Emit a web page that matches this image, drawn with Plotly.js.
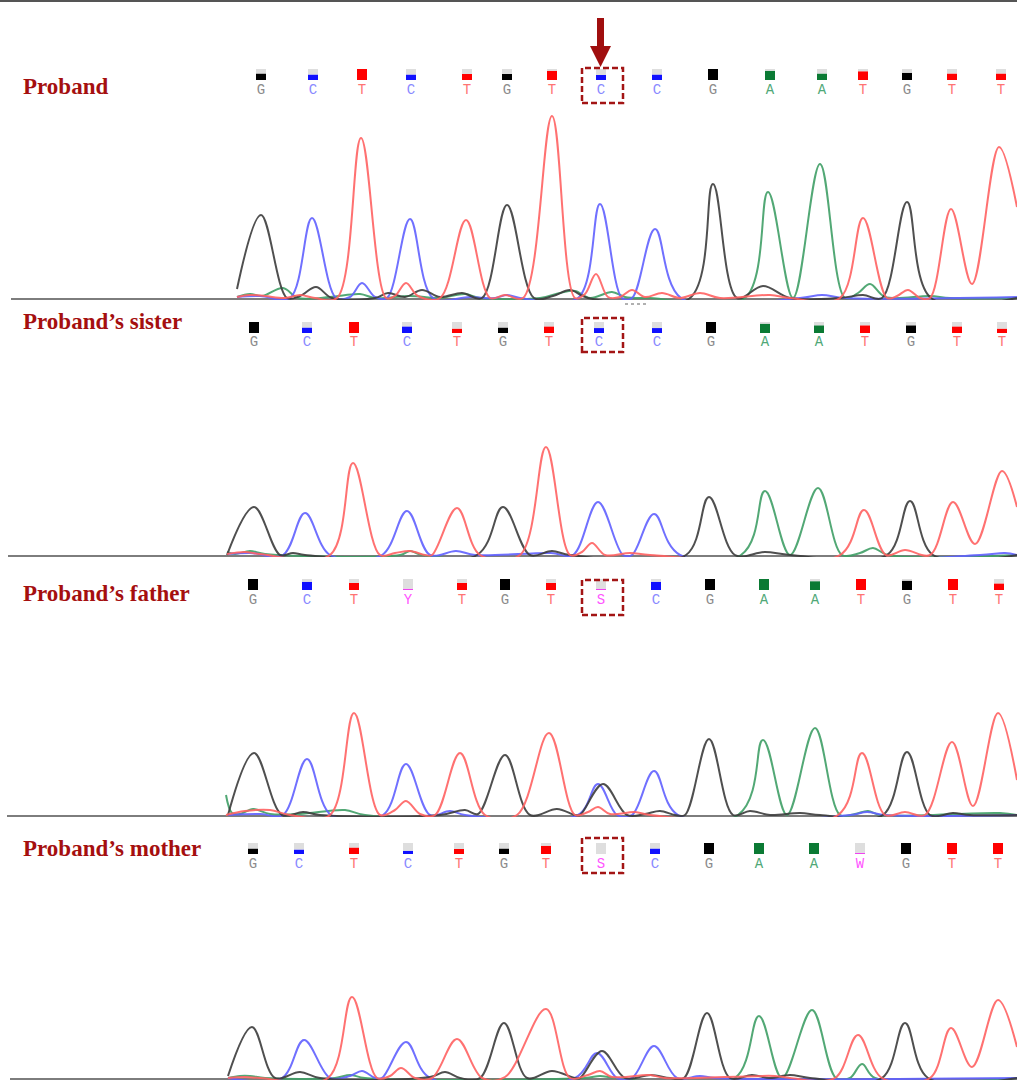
<!DOCTYPE html>
<html><head><meta charset="utf-8">
<script src="https://cdn.plot.ly/plotly-3.0.1.min.js"></script>
<style>html,body{margin:0;padding:0;background:#fff;overflow:hidden}#chart{width:1017px;height:1082px}</style>
</head><body><div id="chart"></div>
<script>
// ---------------- DATA ----------------
const panelLabels = ['Proband', 'Proband\u2019s sister', 'Proband\u2019s father', 'Proband\u2019s mother'];

// base calls, call positions (scan units) and call quality (fraction)
const proband_bases = ['G','C','T','C','T','G','T','C','C','G','A','A','T','G','T','T'];
const proband_pos   = [261,313,362,411,467,507,552,601,657,713,770,822,863,907,952,1001];
const proband_qual  = [0.6,0.5,1.0,0.5,0.55,0.55,0.85,0.45,0.5,1.0,0.85,0.6,0.8,0.65,0.6,0.6];

const sister_bases = ['G','C','T','C','T','G','T','C','C','G','A','A','T','G','T','T'];
const sister_pos   = [254,307,354,407,457,503,549,599,657,711,765,819,865,911,957,1002];
const sister_qual  = [1.0,0.5,1.0,0.6,0.4,0.5,0.6,0.45,0.45,1.0,0.85,0.7,0.7,0.7,0.6,0.4];

const father_bases = ['G','C','T','Y','T','G','T','S','C','G','A','A','T','G','T','T'];
const father_pos   = [253,307,354,408,462,505,551,601,656,710,764,815,861,907,953,999];
const father_qual  = [1.0,0.75,0.65,0.12,0.65,1.0,0.65,0.12,0.75,1.0,1.0,0.8,1.0,0.85,1.0,0.6];

const mother_bases = ['G','C','T','C','T','G','T','S','C','G','A','A','W','G','T','T'];
const mother_pos   = [253,299,354,408,459,504,546,601,655,709,759,814,860,906,952,998];
const mother_qual  = [0.5,0.4,0.6,0.3,0.45,0.5,0.75,0.0,0.5,1.0,1.0,1.0,0.12,1.0,1.0,1.0];

// trace points [scan position, signal] per dye channel
const proband_G = [[237,10],[261,84],[287,1],[300,3],[316,12],[332,1],[375,1],[388,6],[405,2],[422,9],[440,2],[462,6],[482,1],[507,94],[534,1],[553,3],[570,9],[588,1],[690,1],[713,115],[737,1],[763,13],[790,1],[840,1],[863,4],[882,1],[907,97],[931,1],[1017,1]];
const proband_C = [[237,2],[260,3],[290,1],[312,81],[336,1],[350,2],[362,16],[375,2],[387,1],[410,80],[433,1],[470,2],[495,1],[507,4],[520,1],[578,1],[600,95],[622,1],[632,1],[655,70],[681,1],[800,1],[822,4],[845,1],[1017,2]];
const proband_T = [[237,2],[250,4],[265,3],[285,1],[300,4],[315,1],[337,1],[361,161],[386,1],[395,3],[406,16],[418,3],[440,1],[466,79],[490,1],[505,4],[523,1],[552,183],[575,1],[585,5],[596,25],[608,2],[620,2],[632,9],[645,2],[662,6],[680,1],[700,6],[720,1],[770,4],[790,1],[840,1],[863,81],[887,1],[897,3],[908,9],[920,1],[930,1],[951,90],[972,15],[999,152],[1017,92]];
const proband_A = [[237,2],[250,5],[262,3],[283,11],[298,1],[330,2],[360,5],[375,1],[410,3],[440,1],[465,5],[480,1],[540,1],[560,6],[575,8],[590,1],[612,7],[625,2],[650,1],[745,1],[768,107],[793,1],[820,135],[845,1],[858,6],[870,15],[885,2],[930,3],[950,1],[1017,1]];

const sister_G = [[227,1],[254,49],[280,1],[293,3],[305,1],[477,1],[503,49],[530,1],[552,5],[570,1],[686,1],[709,59],[735,1],[765,4],[790,1],[887,1],[910,55],[933,1],[1017,1]];
const sister_C = [[227,2],[250,3],[283,1],[305,43],[330,1],[382,1],[407,45],[430,1],[456,5],[475,1],[551,3],[573,1],[598,54],[623,1],[632,1],[654,42],[680,1],[980,1],[1005,3],[1017,1]];
const sister_T = [[227,2],[245,4],[260,2],[330,1],[353,93],[380,1],[395,3],[410,5],[425,1],[432,1],[457,48],[480,1],[520,1],[546,109],[570,1],[582,4],[592,13],[605,1],[630,3],[650,1],[840,1],[864,46],[886,1],[905,6],[930,1],[953,54],[975,12],[1002,85],[1017,49]];
const sister_A = [[227,4],[235,2],[250,5],[265,2],[400,1],[410,5],[422,1],[741,1],[765,65],[790,1],[818,68],[842,1],[860,3],[873,8],[888,1],[1017,1]];

const father_G = [[228,1],[254,63],[282,1],[303,4],[320,1],[440,1],[465,6],[478,2],[505,61],[530,1],[557,7],[575,1],[580,1],[603,32],[627,1],[645,2],[660,5],[675,1],[685,1],[709,77],[733,1],[750,5],[770,1],[800,3],[820,1],[883,1],[907,64],[930,1],[953,3],[970,1],[1017,1]];
const father_C = [[228,1],[260,2],[283,1],[307,57],[331,1],[383,1],[406,52],[430,1],[450,5],[465,1],[578,1],[598,32],[617,1],[632,1],[654,45],[678,1],[850,1],[867,4],[885,1],[1017,1]];
const father_T = [[226,1],[245,5],[270,6],[290,1],[330,1],[354,103],[380,1],[395,6],[406,15],[420,2],[435,1],[460,63],[485,1],[517,1],[549,83],[575,1],[588,4],[598,9],[610,2],[635,4],[650,1],[838,1],[862,63],[885,1],[905,4],[925,1],[952,74],[973,10],[998,103],[1017,36]];
const father_A = [[226,21],[232,3],[240,2],[253,7],[270,2],[300,2],[345,6],[365,1],[738,1],[763,76],[787,1],[815,88],[840,1],[855,2],[868,5],[880,1],[1000,3],[1017,1]];

const mother_G = [[228,3],[252,52],[275,1],[300,7],[320,1],[430,2],[445,7],[460,1],[480,1],[504,56],[527,1],[552,8],[575,1],[580,1],[602,28],[625,1],[651,4],[670,1],[684,1],[707,66],[730,1],[752,4],[770,1],[790,4],[810,1],[882,1],[905,56],[928,1],[1017,1]];
const mother_C = [[228,1],[282,1],[304,39],[330,1],[350,3],[362,8],[375,1],[382,1],[406,37],[430,1],[575,1],[597,26],[617,1],[632,1],[654,33],[677,1],[700,3],[715,1],[1017,1]];
const mother_T = [[228,1],[245,2],[260,1],[328,1],[352,82],[377,1],[390,3],[401,11],[415,1],[432,1],[457,40],[482,1],[505,2],[546,70],[570,1],[588,4],[600,8],[612,2],[650,4],[665,1],[775,3],[790,1],[835,1],[858,44],[882,1],[930,1],[951,51],[972,12],[998,79],[1017,32]];
const mother_A = [[228,1],[240,3],[250,3],[265,1],[335,1],[350,4],[365,1],[585,1],[600,3],[615,1],[735,1],[759,63],[782,1],[812,69],[836,1],[850,1],[862,15],[875,1],[1017,1]];

// ---------------- STYLE / LAYOUT ----------------
const W = 1017, H = 1082;
const py = p => 1 - p / H;
const dom = (top, bot) => [1 - bot / H, 1 - top / H];

const panels = [
  {bases: proband_bases, pos: proband_pos, qual: proband_qual, ch: {G: proband_G, C: proband_C, T: proband_T, A: proband_A}},
  {bases: sister_bases,  pos: sister_pos,  qual: sister_qual,  ch: {G: sister_G,  C: sister_C,  T: sister_T,  A: sister_A}},
  {bases: father_bases,  pos: father_pos,  qual: father_qual,  ch: {G: father_G,  C: father_C,  T: father_T,  A: father_A}},
  {bases: mother_bases,  pos: mother_pos,  qual: mother_qual,  ch: {G: mother_G,  C: mother_C,  T: mother_T,  A: mother_A}}
];
const geo = [
  {base: 299,  sqTop: 69,  sqBot: 80,  letY: 90.5, labY: 86,  lineX0: 11, boxTop: 68,  boxBot: 103},
  {base: 556,  sqTop: 322, sqBot: 333, letY: 342,  labY: 321, lineX0: 8,  boxTop: 318, boxBot: 352},
  {base: 816,  sqTop: 579, sqBot: 590, letY: 600,  labY: 593, lineX0: 7,  boxTop: 580, boxBot: 615},
  {base: 1079, sqTop: 843, sqBot: 854, letY: 864.5,labY: 848, lineX0: 10, boxTop: 838, boxBot: 873}
];
const traceColor = {G: '#3c3c3c', C: '#6161ff', T: '#ff6262', A: '#3f9e66'};
const boxColor = {G: '#000000', C: '#1010ff', T: '#ff0000', A: '#0b7a34', Y: '#ee44ee', S: '#ee44ee', W: '#ee44ee'};
const letterColor = {G: '#8c8c8c', C: '#8a8aff', T: '#ff7373', A: '#4fa877', Y: '#ff55ff', S: '#ff55ff', W: '#ff55ff'};
const darkRed = '#a50f0f';

const data = [];
const layout = {
  width: W, height: H,
  margin: {l: 0, r: 0, t: 0, b: 0},
  paper_bgcolor: '#ffffff', plot_bgcolor: 'rgba(0,0,0,0)',
  showlegend: false, hovermode: false,
  barmode: 'overlay',
  xaxis: {range: [0, W], domain: [0, 1], visible: false, fixedrange: true},
  shapes: [], annotations: []
};

// top border
layout.shapes.push({type: 'line', xref: 'paper', yref: 'paper', x0: 0, x1: 1, y0: py(1), y1: py(1),
  line: {color: '#555555', width: 2}});

panels.forEach((p, i) => {
  const g = geo[i];
  const tAx = 'y' + (i === 0 ? '' : (i + 1));
  const hAx = 'y' + (i + 5);
  const tKey = 'yaxis' + (i === 0 ? '' : (i + 1));
  const hKey = 'yaxis' + (i + 5);
  layout[tKey] = {domain: dom(g.base - 199, g.base + 1), range: [-1, 199], visible: false, fixedrange: true, anchor: 'x'};
  const hTop = g.sqTop - 12, hBot = g.letY + 12;
  layout[hKey] = {domain: dom(hTop, hBot), range: [-hBot, -hTop], visible: false, fixedrange: true, anchor: 'x'};

  // baseline
  layout.shapes.push({type: 'line', xref: 'x', yref: tAx, x0: g.lineX0, x1: W, y0: 0, y1: 0,
    line: {color: '#7d7d7d', width: 2}, layer: 'below'});

  // chromatogram traces
  ['A', 'C', 'G', 'T'].forEach(c => {
    const pts = p.ch[c];
    data.push({type: 'scatter', mode: 'lines', xaxis: 'x', yaxis: tAx,
      x: pts.map(d => d[0]), y: pts.map(d => d[1]),
      line: {color: traceColor[c], width: 2, shape: 'spline', smoothing: 1}, opacity: 0.9,
      cliponaxis: true});
  });

  // quality boxes
  const hq = g.sqBot - g.sqTop;
  data.push({type: 'bar', xaxis: 'x', yaxis: hAx, x: p.pos, y: p.qual.map(q => q * hq),
    base: p.qual.map(() => -g.sqBot), width: p.pos.map(() => 10),
    marker: {color: p.bases.map(b => boxColor[b]), line: {width: 0}}});
  data.push({type: 'bar', xaxis: 'x', yaxis: hAx, x: p.pos, y: p.qual.map(q => (1 - q) * hq),
    base: p.qual.map(q => -g.sqBot + q * hq), width: p.pos.map(() => 10),
    marker: {color: '#dedede', line: {width: 0}}});
  // base letters
  data.push({type: 'scatter', mode: 'text', xaxis: 'x', yaxis: hAx, x: p.pos, y: p.pos.map(() => -g.letY),
    text: p.bases, textposition: 'middle center',
    textfont: {family: 'Liberation Mono, DejaVu Sans Mono, monospace', size: 14, color: p.bases.map(b => letterColor[b])}});

  // panel label
  layout.annotations.push({xref: 'paper', yref: 'paper', x: 21 / W, y: py(g.labY), xanchor: 'left', yanchor: 'middle',
    showarrow: false, text: '<b>' + panelLabels[i] + '</b>',
    font: {family: 'Liberation Serif, Times New Roman, serif', size: 23, color: darkRed}});

  // dashed box around the variant position
  layout.shapes.push({type: 'rect', xref: 'x', yref: 'paper', x0: 582, x1: 623, y0: py(g.boxBot), y1: py(g.boxTop),
    line: {color: '#a31515', width: 2.5, dash: '6px,3px'}, fillcolor: 'rgba(0,0,0,0)'});
});

// red arrow above the variant
layout.shapes.push({type: 'rect', xref: 'x', yref: 'paper', x0: 597, x1: 604, y0: py(48), y1: py(18),
  fillcolor: '#a00e0e', line: {width: 0}});
layout.shapes.push({type: 'path', xref: 'x', yref: 'paper',
  path: `M 590 ${py(46)} L 611 ${py(46)} L 600.5 ${py(67)} Z`, fillcolor: '#a00e0e', line: {width: 0}});
// small dotted mark under first panel
layout.shapes.push({type: 'line', xref: 'x', yref: 'paper', x0: 625, x1: 649, y0: py(304), y1: py(304),
  line: {color: '#b0b0b0', width: 2, dash: 'dot'}});

Plotly.newPlot('chart', data, layout, {staticPlot: true, displayModeBar: false});
</script></body></html>
